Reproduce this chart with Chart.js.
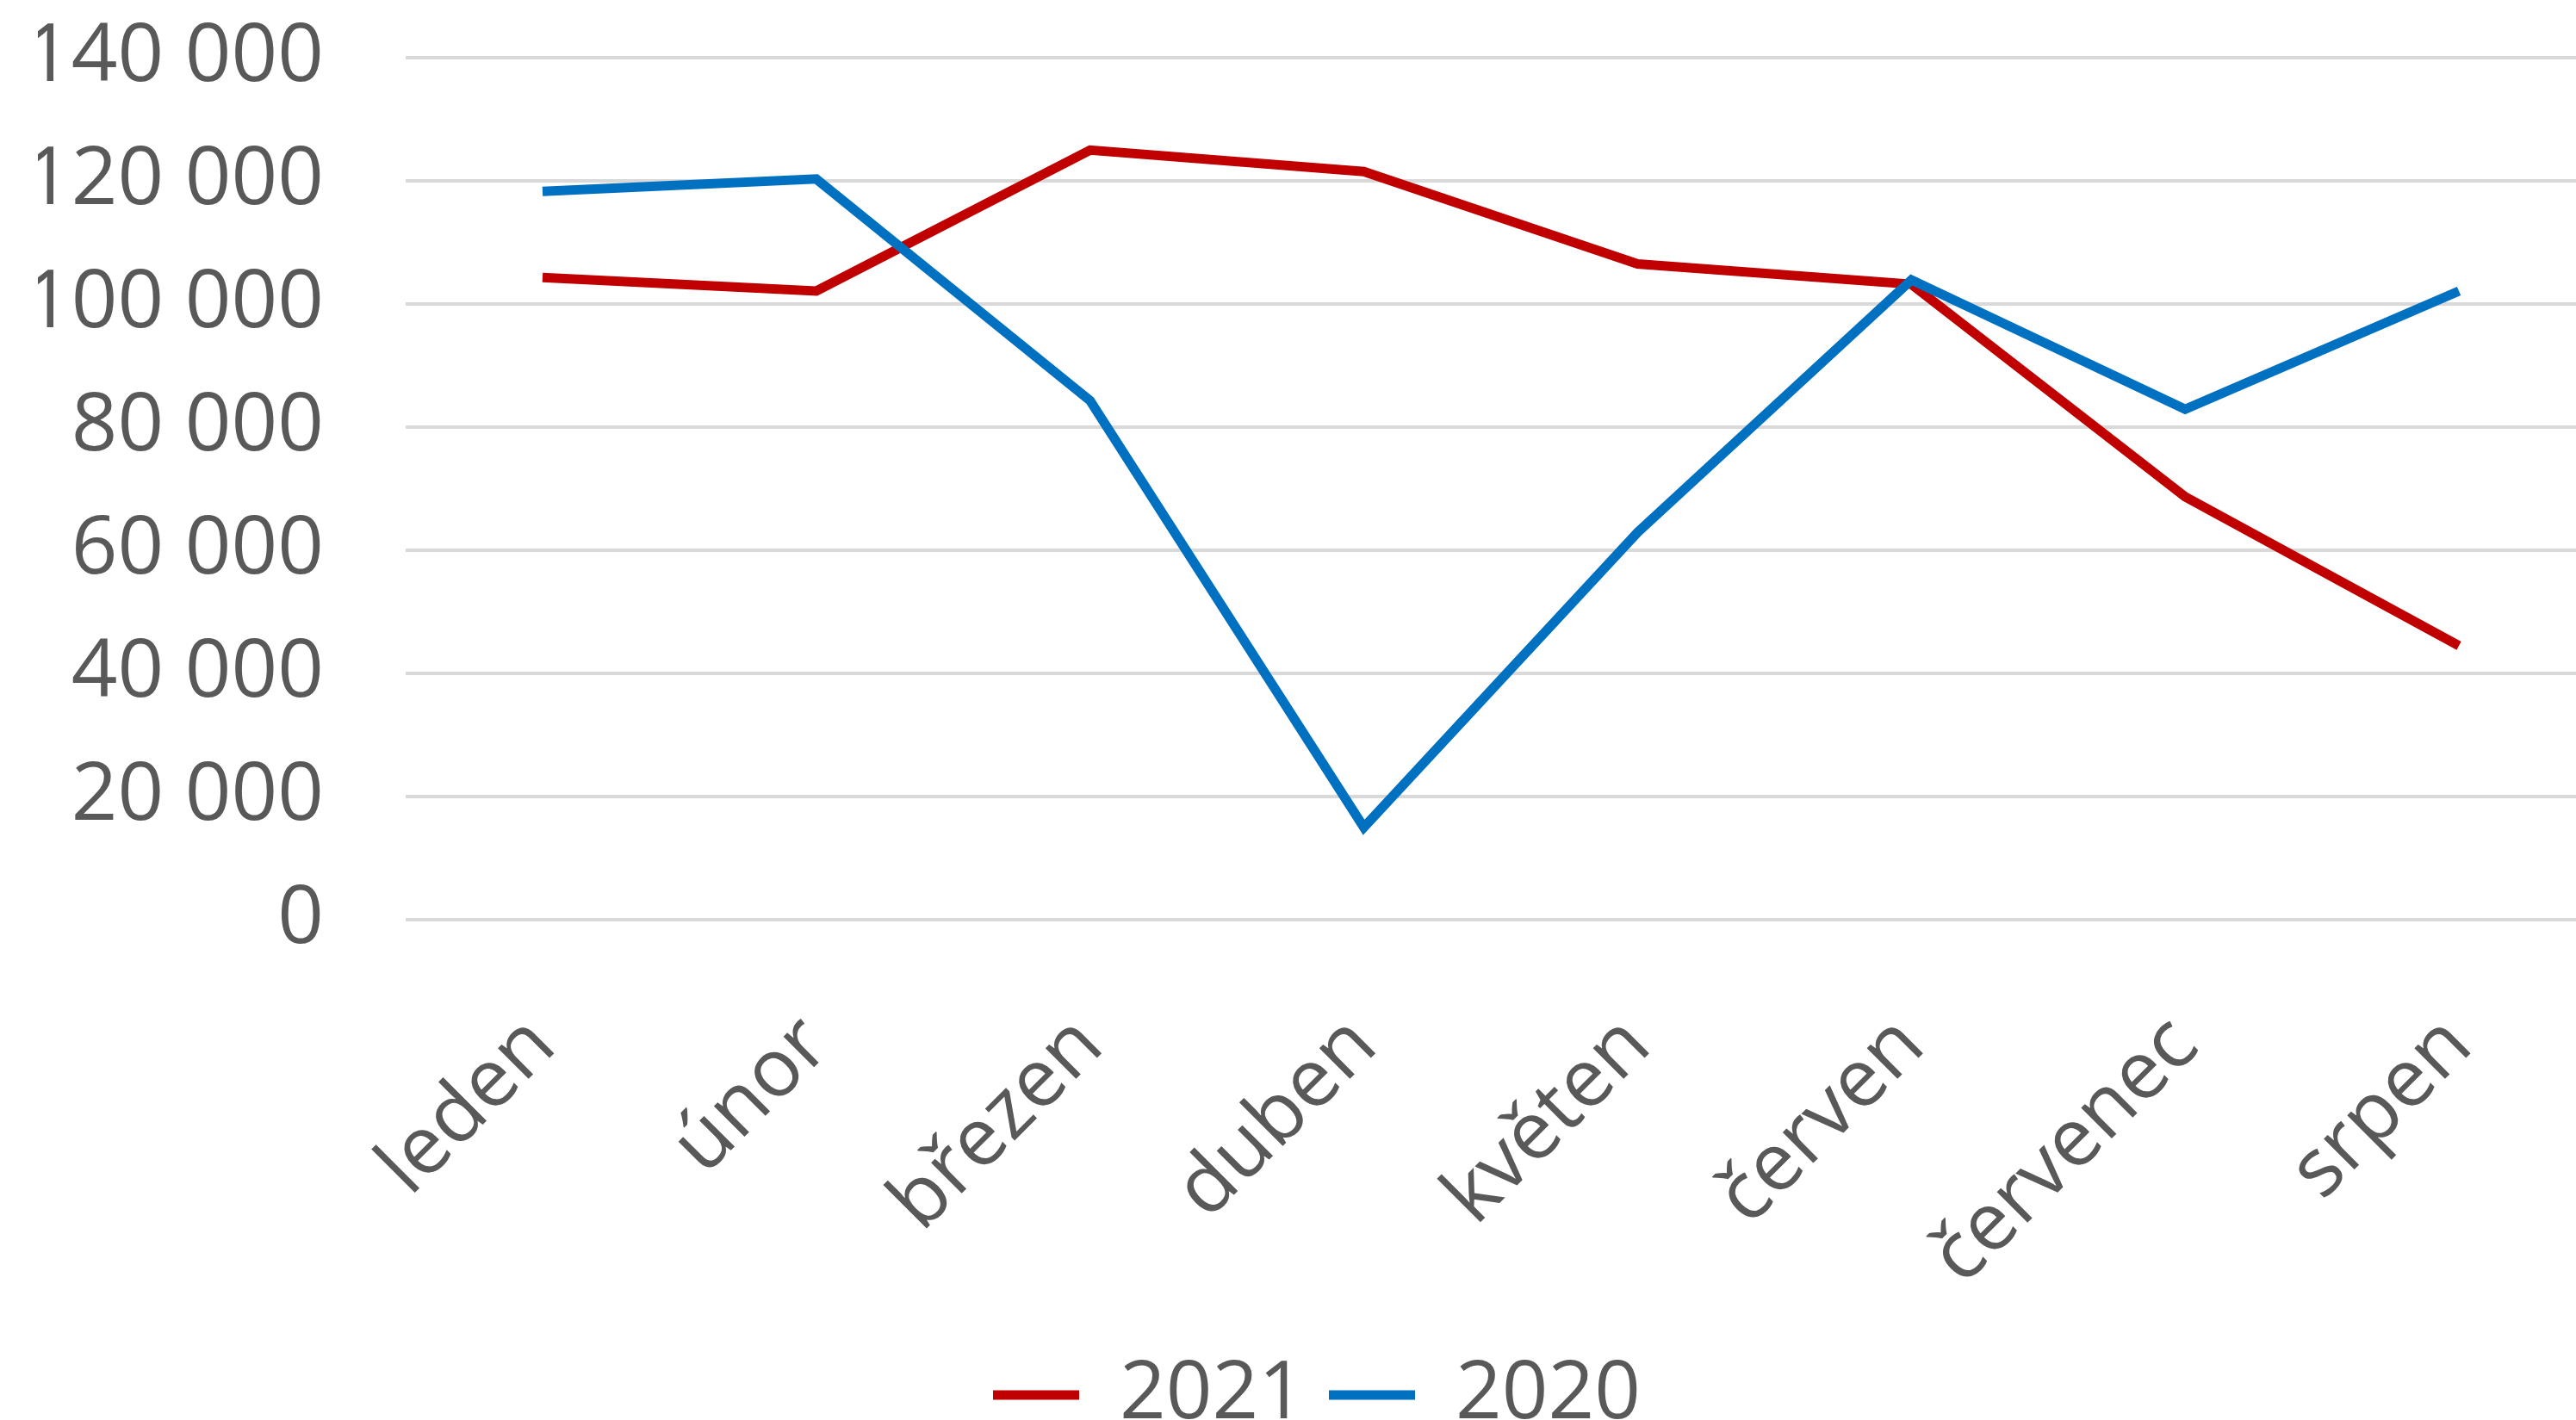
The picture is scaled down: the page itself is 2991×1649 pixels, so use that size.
<!DOCTYPE html>
<html lang="cs">

<head>
  <meta charset="UTF-8">
  <title>2021 vs 2020</title>
  <script src="https://cdn.jsdelivr.net/npm/chart.js"></script>
  <style>
    body { margin: 0; overflow: hidden; background: #fff; }
    /* a bit wider and taller than the window: the original is cut off on the right and bottom */
    .wrap { width: 3014px; height: 1677px; }
  </style>
</head>

<body>
  <div class="wrap"><canvas id="lineChart"></canvas></div>

  <script>
    // data
    const months = ['leden', 'únor', 'březen', 'duben', 'květen', 'červen', 'červenec', 'srpen'];
    const values2021 = [104300, 102100, 125000, 121500, 106500, 103200, 68700, 44500];
    const values2020 = [118300, 120300, 84300, 15000, 62900, 103900, 82900, 102100];
    const yMin = 0;
    const yMax = 140000;
    const yStep = 20000;

    const textColor = '#595959';
    const fontFamily = '"Open Sans", "Noto Sans", sans-serif';

    // "140 000" style
    function fmt(v) {
      return String(v).replace(/\B(?=(\d{3})+(?!\d))/g, ' ');
    }

    const ctx = document.getElementById('lineChart').getContext('2d');

    // blue first so it is drawn on top, legend sorted back to 2021, 2020
    const chart = new Chart(ctx, {
      type: 'line',
      data: {
        labels: months,
        datasets: [
          { label: '2020', data: values2020, borderColor: '#0070C0', backgroundColor: '#0070C0', borderWidth: 11, pointRadius: 0, tension: 0, fill: false },
          { label: '2021', data: values2021, borderColor: '#C00000', backgroundColor: '#C00000', borderWidth: 11, pointRadius: 0, tension: 0, fill: false }
        ]
      },
      options: {
        responsive: true,
        maintainAspectRatio: false,
        animation: false,
        layout: { padding: { top: 67, left: 44, right: 0, bottom: 0 } },
        plugins: {
          tooltip: { enabled: false },
          legend: {
            position: 'bottom',
            labels: {
              color: textColor,
              font: { family: fontFamily, size: 94 },
              boxWidth: 100,
              boxHeight: 11,
              padding: 28,
              sort: (a, b) => b.datasetIndex - a.datasetIndex,
              generateLabels: function (c) {
                const items = Chart.defaults.plugins.legend.labels.generateLabels(c);
                items.forEach(it => { it.fillStyle = it.strokeStyle; it.lineWidth = 0; });
                return items;
              }
            }
          }
        },
        scales: {
          x: {
            offset: true,
            grid: { display: false },
            border: { display: false },
            ticks: {
              color: textColor,
              font: { family: fontFamily, size: 94 },
              minRotation: 45,
              maxRotation: 45,
              padding: 83
            },
            afterFit: (scale) => {
              scale.height = 477;
              scale.paddingLeft = 0;
              scale.paddingRight = 0;
            }
          },
          y: {
            min: yMin,
            max: yMax,
            grid: { color: '#D9D9D9', lineWidth: 4, drawTicks: false },
            border: { display: false },
            ticks: {
              stepSize: yStep,
              color: textColor,
              font: { family: fontFamily, size: 94 },
              padding: 95,
              callback: (v) => fmt(v)
            },
            afterFit: (scale) => {
              scale.width = 427;
              scale.paddingTop = 0;
              scale.paddingBottom = 0;
            }
          }
        }
      }
    });
  </script>
</body>

</html>
